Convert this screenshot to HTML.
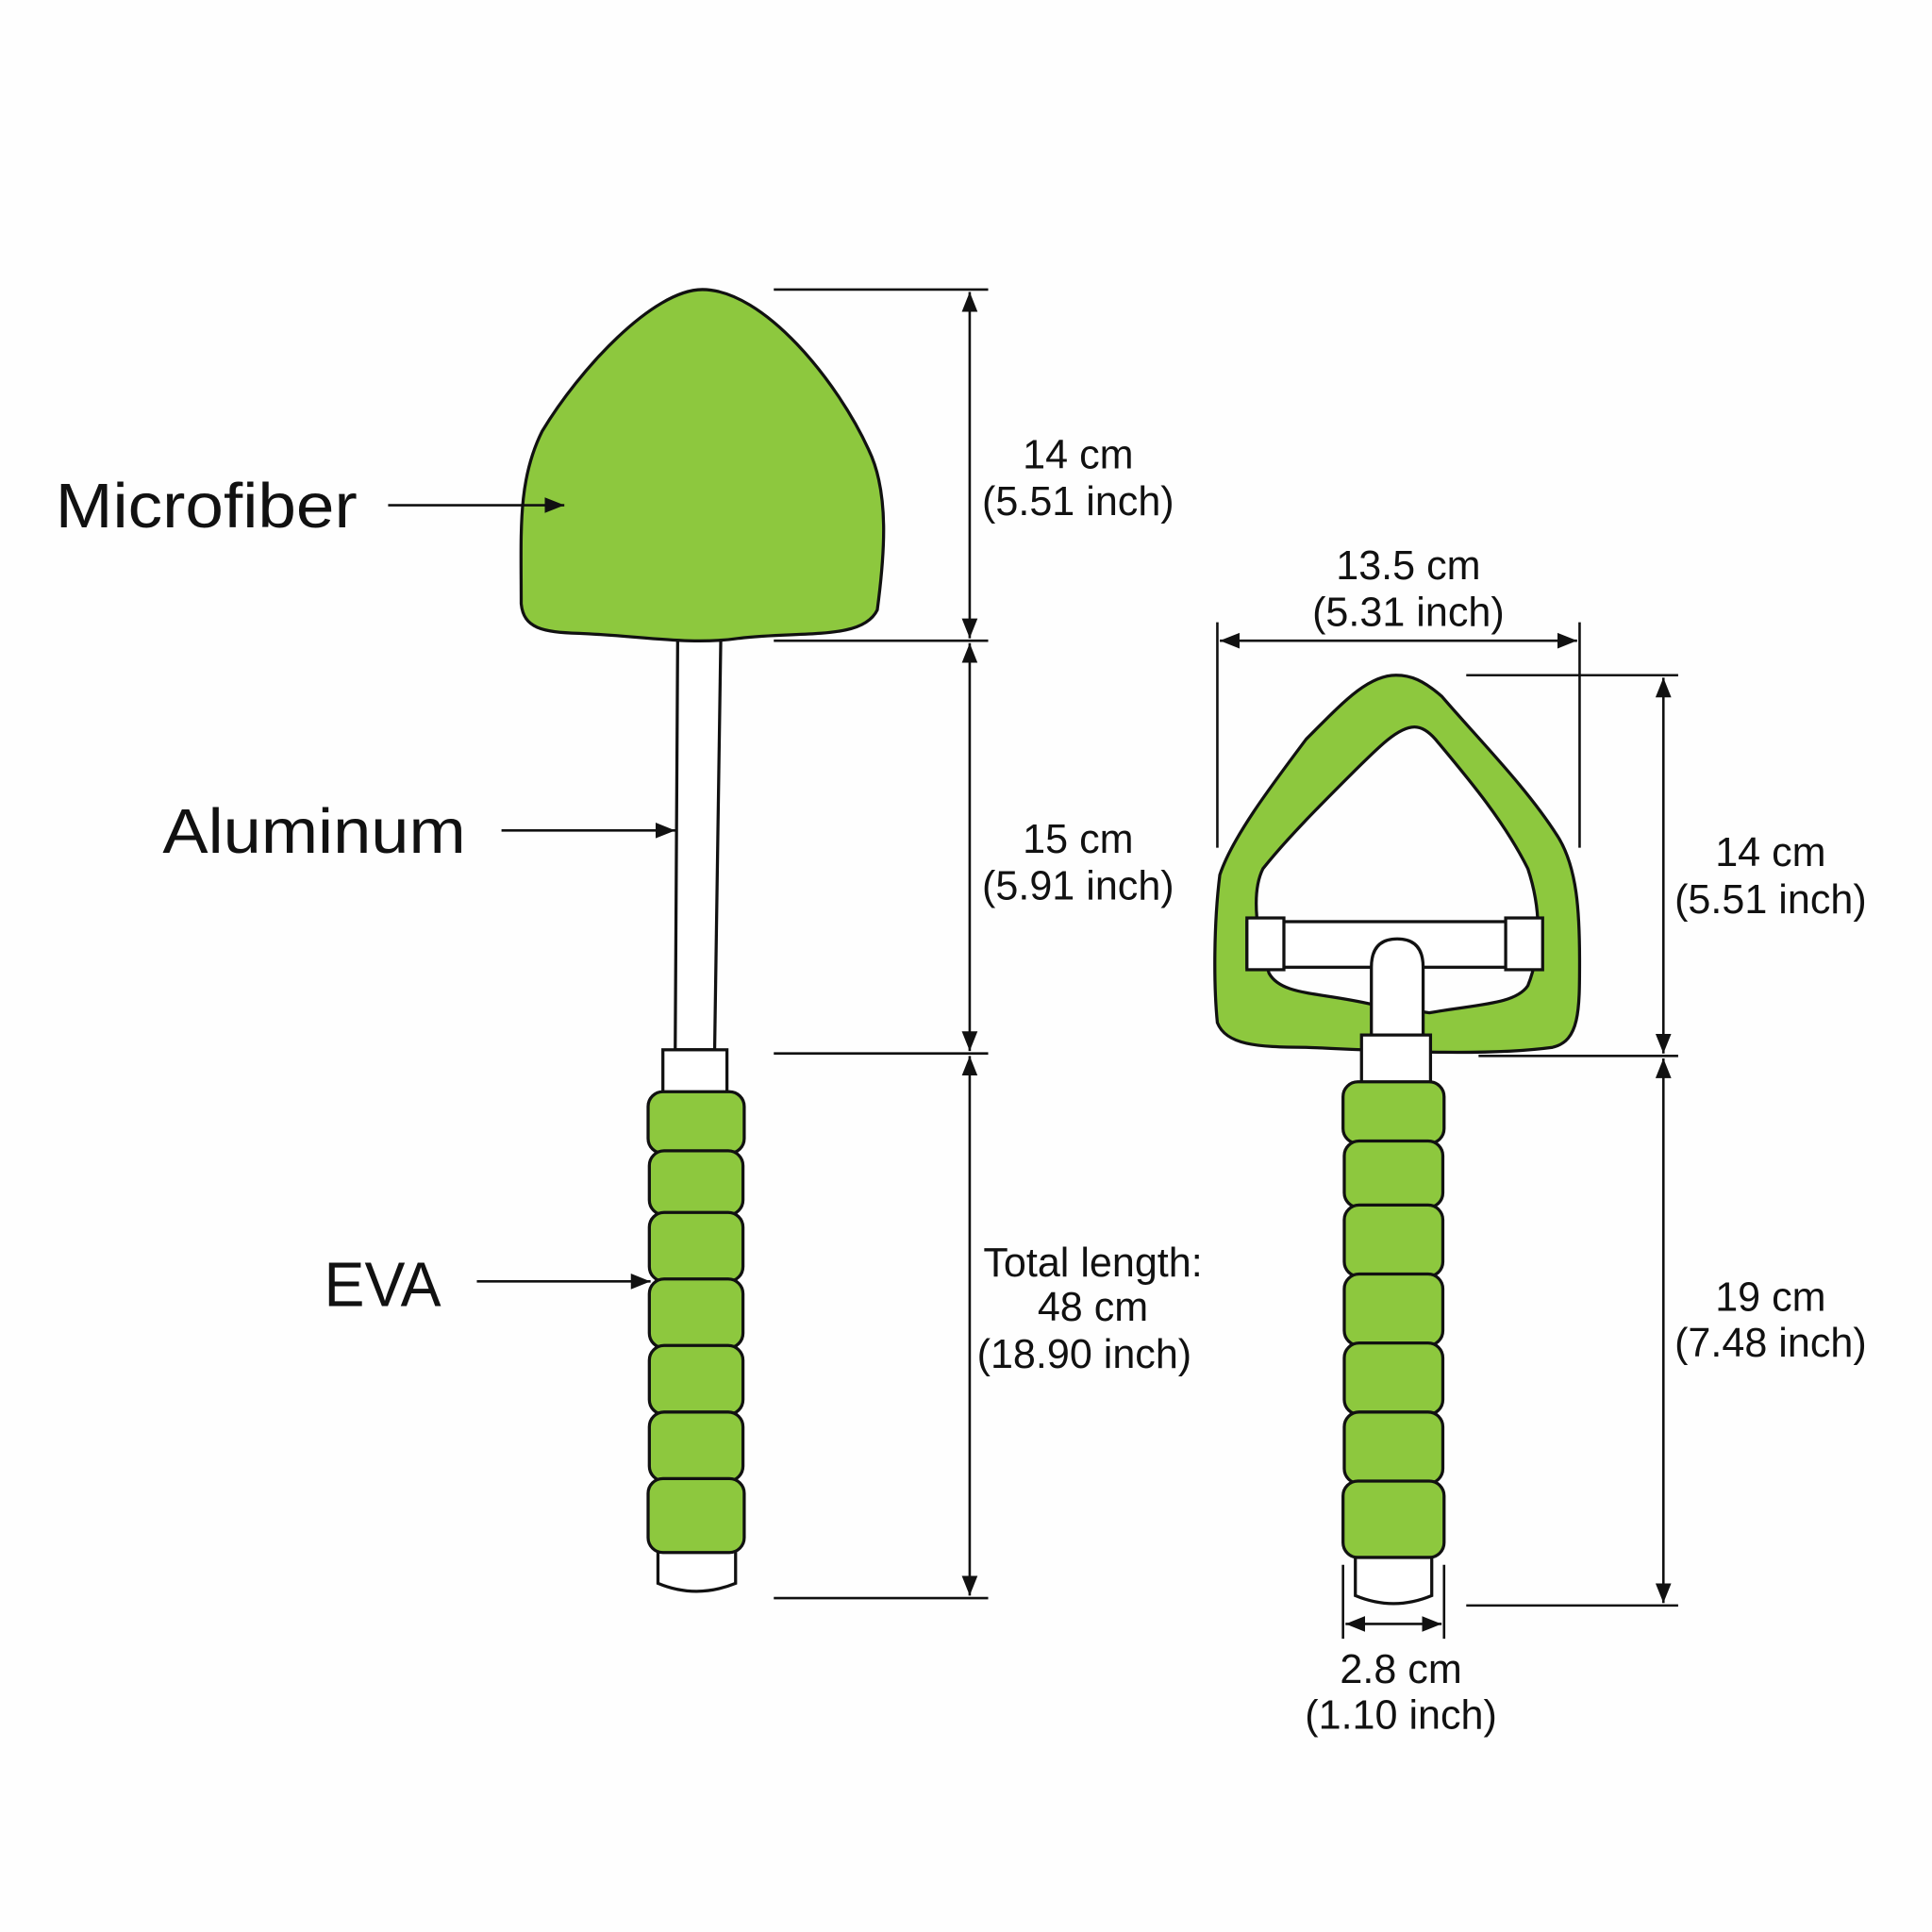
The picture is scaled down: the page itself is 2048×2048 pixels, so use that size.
<!DOCTYPE html>
<html><head><meta charset="utf-8"><style>
html,body{margin:0;padding:0;background:#fefefe;}
svg{display:block}
.d{font-family:"Liberation Sans Narrow","Liberation Sans",sans-serif;font-size:33px;fill:#111;text-anchor:middle}
.l{font-family:"Liberation Sans",sans-serif;font-size:51px;fill:#111}
</style></head><body>
<svg width="2048" height="2048" viewBox="0 0 1568 1568" xmlns="http://www.w3.org/2000/svg">
<defs>
<marker id="a" viewBox="0 0 10 10" refX="10" refY="5" markerWidth="8" markerHeight="8" orient="auto-start-reverse"><path d="M0,1 L10,5 L0,9 Z" fill="#111"/></marker>
</defs>
<rect width="1568" height="1568" fill="#fefefe"/>
<g stroke="#111" stroke-width="2.5" fill="none">
<path d="M550,518 L548,852 L580,852 L585,518 Z" fill="#fff"/>
<path d="M570,235 C530,235 470,300 440,350 C420,390 423,430 423,490 C425,510 440,513 470,514 C520,516 560,524 600,518 C650,512 700,520 712,495 C718,450 722,400 705,365 C680,310 620,235 570,235 Z" fill="#8dc83e"/>
<rect x="538" y="852" width="52" height="36" fill="#fff"/>
<path d="M534,1258 L534,1285 Q565,1298 597,1285 L597,1258" fill="#fff"/>
<g fill="#8dc83e">
<rect x="526" y="886" width="78" height="50" rx="12"/>
<rect x="527" y="934" width="76" height="52" rx="12"/>
<rect x="527" y="984" width="76" height="56" rx="12"/>
<rect x="527" y="1038" width="76" height="56" rx="12"/>
<rect x="527" y="1092" width="76" height="56" rx="12"/>
<rect x="527" y="1146" width="76" height="56" rx="12"/>
<rect x="526" y="1200" width="78" height="60" rx="12"/>
</g>
<path d="M1133,548 C1110,548 1090,570 1060,600 C1030,640 1000,680 990,710 C985,750 985,800 988,830 C995,848 1020,850 1060,850 C1110,852 1200,858 1260,850 C1282,845 1282,820 1282,780 C1282,740 1280,705 1265,680 C1240,640 1200,600 1170,565 C1155,552 1145,548 1133,548 Z" fill="#8dc83e"/>
<path d="M1148,590 C1135,590 1120,605 1095,630 C1070,655 1045,680 1025,705 C1015,725 1020,760 1030,790 C1040,808 1070,805 1113,815 L1160,822 C1200,815 1230,815 1240,800 C1252,770 1250,735 1240,705 C1220,665 1190,630 1165,600 C1158,592 1152,590 1148,590 Z" fill="#fefefe"/>
<rect x="1012" y="748" width="238" height="37" fill="#fff"/>
<rect x="1012" y="745" width="30" height="42" fill="#fff"/>
<rect x="1222" y="745" width="30" height="42" fill="#fff"/>
<path d="M1113,845 L1113,785 Q1113,762 1134,762 Q1155,762 1155,785 L1155,845" fill="#fff"/>
<rect x="1105" y="840" width="56" height="40" fill="#fff"/>
<path d="M1100,1262 L1100,1295 Q1131,1308 1162,1295 L1162,1262" fill="#fff"/>
<g fill="#8dc83e">
<rect x="1090" y="878" width="82" height="50" rx="12"/>
<rect x="1091" y="926" width="80" height="54" rx="12"/>
<rect x="1091" y="978" width="80" height="58" rx="12"/>
<rect x="1091" y="1034" width="80" height="58" rx="12"/>
<rect x="1091" y="1090" width="80" height="58" rx="12"/>
<rect x="1091" y="1146" width="80" height="58" rx="12"/>
<rect x="1090" y="1202" width="82" height="62" rx="12"/>
</g>
</g>
<g stroke="#111" stroke-width="2">
<line x1="628" y1="235" x2="802" y2="235"/>
<line x1="628" y1="520" x2="802" y2="520"/>
<line x1="628" y1="855" x2="802" y2="855"/>
<line x1="628" y1="1297" x2="802" y2="1297"/>
<line x1="787" y1="237" x2="787" y2="518" marker-start="url(#a)" marker-end="url(#a)"/>
<line x1="787" y1="522" x2="787" y2="853" marker-start="url(#a)" marker-end="url(#a)"/>
<line x1="787" y1="857" x2="787" y2="1295" marker-start="url(#a)" marker-end="url(#a)"/>
<line x1="315" y1="410" x2="458" y2="410" marker-end="url(#a)"/>
<line x1="407" y1="674" x2="548" y2="674" marker-end="url(#a)"/>
<line x1="387" y1="1040" x2="528" y2="1040" marker-end="url(#a)"/>
<line x1="988" y1="505" x2="988" y2="688"/>
<line x1="1282" y1="505" x2="1282" y2="688"/>
<line x1="990" y1="520" x2="1280" y2="520" marker-start="url(#a)" marker-end="url(#a)"/>
<line x1="1190" y1="548" x2="1362" y2="548"/>
<line x1="1200" y1="857" x2="1362" y2="857"/>
<line x1="1190" y1="1303" x2="1362" y2="1303"/>
<line x1="1350" y1="550" x2="1350" y2="855" marker-start="url(#a)" marker-end="url(#a)"/>
<line x1="1350" y1="859" x2="1350" y2="1301" marker-start="url(#a)" marker-end="url(#a)"/>
<line x1="1090" y1="1270" x2="1090" y2="1330"/>
<line x1="1172" y1="1270" x2="1172" y2="1330"/>
<line x1="1092" y1="1318" x2="1170" y2="1318" marker-start="url(#a)" marker-end="url(#a)"/>
</g>
<text class="l" x="45" y="428" textLength="245" lengthAdjust="spacingAndGlyphs">Microfiber</text>
<text class="l" x="132" y="692" textLength="246" lengthAdjust="spacingAndGlyphs">Aluminum</text>
<text class="l" x="263" y="1060" textLength="95" lengthAdjust="spacingAndGlyphs">EVA</text>
<text class="d" x="875" y="380">14 cm</text>
<text class="d" x="875" y="418">(5.51 inch)</text>
<text class="d" x="875" y="692">15 cm</text>
<text class="d" x="875" y="730">(5.91 inch)</text>
<text class="d" x="887" y="1036">Total length:</text>
<text class="d" x="887" y="1072">48 cm</text>
<text class="d" x="880" y="1110">(18.90 inch)</text>
<text class="d" x="1143" y="470">13.5 cm</text>
<text class="d" x="1143" y="508">(5.31 inch)</text>
<text class="d" x="1437" y="703">14 cm</text>
<text class="d" x="1437" y="741">(5.51 inch)</text>
<text class="d" x="1437" y="1064">19 cm</text>
<text class="d" x="1437" y="1101">(7.48 inch)</text>
<text class="d" x="1137" y="1366">2.8 cm</text>
<text class="d" x="1137" y="1403">(1.10 inch)</text>
</svg>
</body></html>
